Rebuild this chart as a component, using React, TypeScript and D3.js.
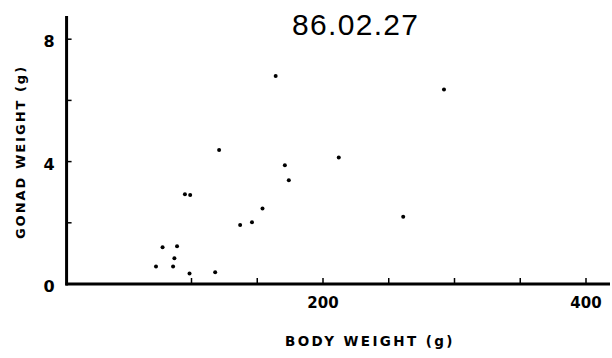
import * as d3 from "d3";

// body weight (g) and gonad weight (g)
const bodyWeight = [73, 78, 86, 87, 89, 95, 99, 98.5, 118, 121, 137, 146, 154, 164, 171, 174, 212, 261, 292];
const gonadWeight = [0.57, 1.2, 0.57, 0.84, 1.23, 2.93, 2.91, 0.34, 0.38, 4.38, 1.93, 2.02, 2.47, 6.8, 3.88, 3.39, 4.13, 2.2, 6.36];

const xTicks = [100, 150, 200, 250, 300, 350, 400];
const xTickLabels = [200, 400];
const yTicks = [2, 4, 6, 8];
const yTickLabels = [0, 4, 8];

const title = "86.02.27";
const xTitle = "BODY WEIGHT (g)";
const yTitle = "GONAD WEIGHT (g)";

const width = 612;
const height = 358;

const x = d3.scaleLinear().domain([0, 400]).range([60, 586]);
const y = d3.scaleLinear().domain([0, 8]).range([284, 39.2]);

const axisX = x(5);
const handFont = "'DejaVu Sans', sans-serif";

export default function App() {
  const points = bodyWeight.map((b, i) => ({ b, g: gonadWeight[i] }));

  return (
    <svg
      width={width}
      height={height}
      style={{ position: "absolute", left: 0, top: 0, background: "#fff" }}
    >
      {/* title */}
      <text
        x={292}
        y={35}
        textLength={126}
        lengthAdjust="spacing"
        fontFamily="'Liberation Sans', sans-serif"
        fontSize={30}
        fill="#000"
      >
        {title}
      </text>

      {/* axes */}
      <line x1={axisX} x2={axisX} y1={16} y2={y(0) + 1.5} stroke="#000" strokeWidth={3} />
      <line x1={axisX - 1} x2={610} y1={y(0)} y2={y(0)} stroke="#000" strokeWidth={3} />

      {yTicks.map((t) => (
        <line key={t} x1={axisX} x2={axisX + 5} y1={y(t)} y2={y(t)} stroke="#000" strokeWidth={1.5} />
      ))}
      {xTicks.map((t) => (
        <line key={t} x1={x(t)} x2={x(t)} y1={y(0)} y2={y(0) - 6} stroke="#000" strokeWidth={1.5} />
      ))}

      {yTickLabels.map((t) => (
        <text
          key={t}
          x={49}
          y={y(t) + 8}
          textAnchor="middle"
          fontFamily={handFont}
          fontSize={16}
          fontWeight="bold"
          fill="#000"
        >
          {t}
        </text>
      ))}
      {xTickLabels.map((t) => (
        <text
          key={t}
          x={x(t)}
          y={308}
          textAnchor="middle"
          fontFamily={handFont}
          fontSize={15}
          fontWeight={600}
          fill="#000"
        >
          {t}
        </text>
      ))}

      {/* axis titles */}
      <text
        x={370}
        y={346}
        textAnchor="middle"
        fontFamily={handFont}
        fontSize={13.5}
        fontWeight={600}
        letterSpacing={2.4}
        fill="#000"
      >
        {xTitle}
      </text>
      <text
        transform="translate(25,152) rotate(-90)"
        textAnchor="middle"
        fontFamily={handFont}
        fontSize={13}
        fontWeight={600}
        letterSpacing={2}
        fill="#000"
      >
        {yTitle}
      </text>

      {/* points */}
      {points.map((p, i) => (
        <circle key={i} cx={x(p.b)} cy={y(p.g)} r={2} fill="#000" />
      ))}
    </svg>
  );
}
